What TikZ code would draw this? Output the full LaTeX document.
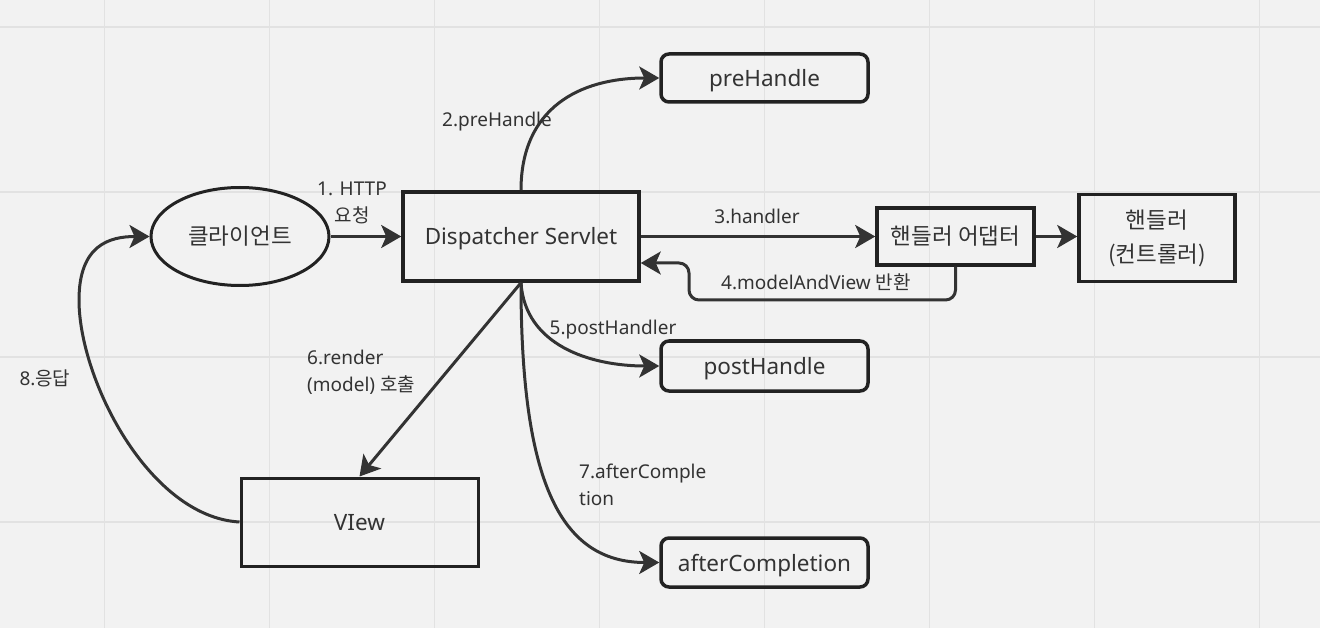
\documentclass[tikz,border=0pt]{standalone}
\usepackage{fontspec}
\setmainfont{Noto Sans}
\newfontfamily\kr{Noto Sans CJK KR}
\usetikzlibrary{arrows.meta,shapes.geometric,calc}
\definecolor{bg}{HTML}{F2F2F2}
\definecolor{gridc}{HTML}{E2E2E2}
\definecolor{ink}{HTML}{333333}
\definecolor{edge}{HTML}{222222}
\begin{document}
\begin{tikzpicture}[x=1pt,y=-1pt,
  box/.style={draw=edge, line width=3.5pt, text=ink, font=\fontsize{22.5}{34}\selectfont, inner sep=0pt, align=center},
  onebox/.style={box, text height=22pt, text depth=5pt},
  rbox/.style={onebox, rounded corners=8pt, minimum width=207pt, minimum height=48pt},
  lbl/.style={text=ink, font=\fontsize{19}{27}\selectfont, inner sep=0pt},
  conn/.style={draw=ink, line width=3pt, -{Stealth[length=20pt,width=23pt,inset=5pt]}},
  gridline/.style={draw=gridc, line width=1.5pt}
]
\fill[bg] (0,0) rectangle (1320,628);
\useasboundingbox (0,0) rectangle (1320,628);
\foreach \x in {104.5,269.5,434.5,599.5,764.5,929.5,1094.5,1259.5}
  \draw[gridline] (\x,0) -- (\x,628);
\foreach \y in {27,192,357,522}
  \draw[gridline] (0,\y) -- (1320,\y);

% nodes
\node[onebox, ellipse, line width=3pt, minimum width=178pt, minimum height=98pt] (client) at (240,236.5) {\kr 클라이언트};
\node[onebox, minimum width=236pt, minimum height=89pt] (ds) at (521,236.5) {Dispatcher Servlet};
\node[rbox] (pre) at (764.5,78) {preHandle};
\node[rbox, minimum height=50pt] (post) at (764.5,366) {postHandle};
\node[rbox, minimum height=49pt] (after) at (764.5,562.5) {afterCompletion};
\node[onebox, minimum width=157pt, minimum height=57pt] (adapter) at (955.5,236.5) {\kr 핸들러 어댑터};
\node[box, minimum width=156pt, minimum height=87pt] (handler) at (1157,238) {{\kr 핸들러}\\{\kr (컨트롤러)}};
\node[onebox, line width=3pt, minimum width=237pt, minimum height=88pt] (view) at (359.5,522) {VIew};

\coordinate (r1) at (955.5,300);
\coordinate (r2) at (689,300);
\coordinate (r3) at (689,263);
\coordinate (c8) at (79,300);

% connectors
\draw[conn] (client) -- (ds);
\draw[conn] (ds.north) .. controls +(0,-82) and +(-80,0) .. (pre.west);
\draw[conn] (ds.east) -- (adapter.west);
\draw[conn] (adapter.east) -- (adapter.east -| handler.west);
\draw[conn, rounded corners=10pt] (adapter.south) -- (r1) -- (r2) -- (r3) -- ([yshift=-26.5pt]ds.east);
\draw[conn] (ds.south) .. controls +(4,62) and +(-70,0) .. (post.west);
\draw[conn] (ds.south) .. controls +(0,197) and +(-100,0) .. (after.west);
\draw[conn] (ds.south) -- (view.north);
\draw[conn] (view.west) .. controls +(-90,-5) and +(0,80) .. (c8) .. controls +(0,-55) and +(-40,0) .. (client.west);

% labels
\node[lbl, align=center] (l1) at (352,203) {1. HTTP\\{\kr 요청}};
\node[lbl] (l2) at (497,122) {2.preHandle};
\node[lbl] (l3) at (757,216) {3.handler};
\node[lbl] (l4) at (816,282.5) {4.modelAndView {\kr 반환}};
\node[lbl] (l5) at (613,330) {5.postHandler};
\node[lbl, align=left, anchor=west] (l6) at (307,372.5) {6.render\\(model) {\kr 호출}};
\node[lbl, align=left, anchor=west] (l7) at (579,485) {7.afterComple\\tion};
\node[lbl] (l8) at (45,378) {8.{\kr 응답}};
\end{tikzpicture}
\end{document}
